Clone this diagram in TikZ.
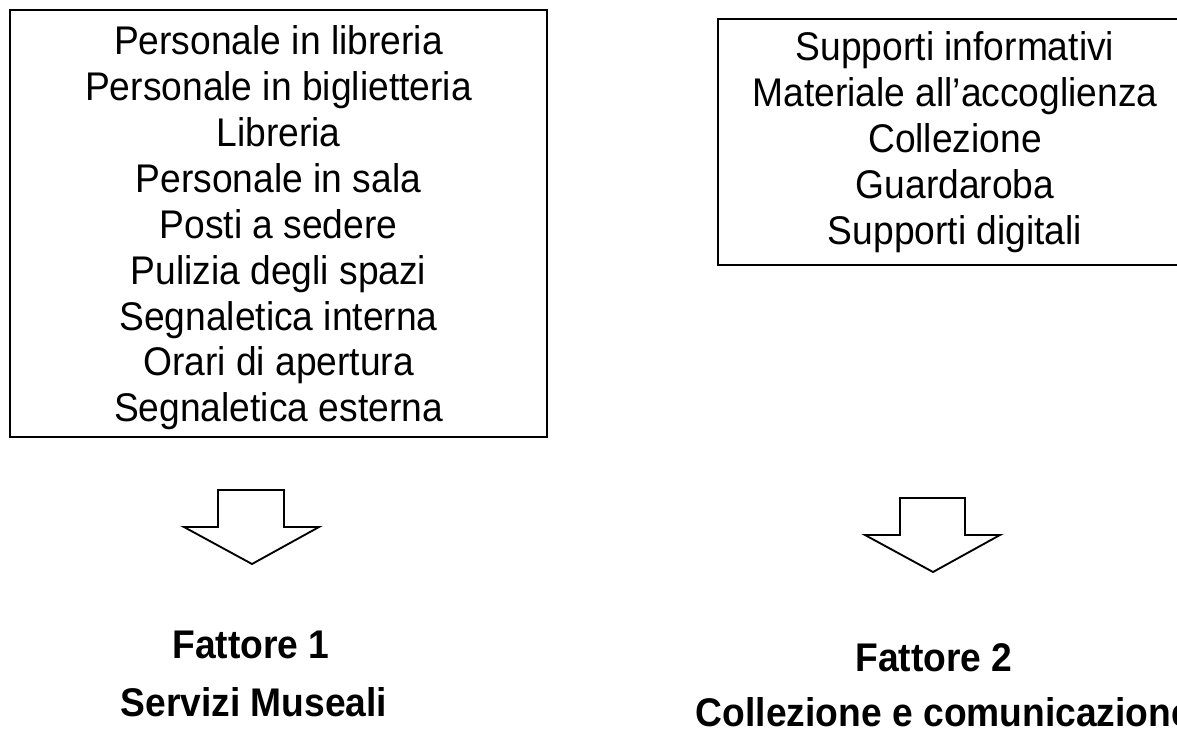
\documentclass[tikz,border=0pt]{standalone}
\usepackage{fontspec}
\setmainfont[FakeStretch=0.93]{Liberation Sans}
\begin{document}
\begin{tikzpicture}[x=0.75pt,y=-0.75pt,
  listbox/.style={draw,line width=1pt,align=center,inner sep=0pt,
    font=\fontsize{30}{34.4}\selectfont},
  factorlabel/.style={inner sep=0pt,font=\fontsize{30}{36}\selectfont\bfseries},
  blockarrow/.style={draw,line width=1.4pt,fill=white,line join=miter}]
\useasboundingbox (0,0) rectangle (1177,728);
\clip (0,0) rectangle (1177,728);
% the two lists of items
\node[listbox,minimum width=402.75pt,minimum height=320.25pt] (servizi) at (278.5,223.5) {};
\node[align=center,inner sep=0pt,font=\fontsize{30}{34.4}\selectfont] (servizitext) at (278.5,228)
  {Personale in libreria\\Personale in biglietteria\\Libreria\\Personale in sala\\Posti a sedere\\
   Pulizia degli spazi\\Segnaletica interna\\Orari di apertura\\Segnaletica esterna};
\node[listbox,minimum width=355.5pt,minimum height=184.5pt] (collezione) at (955,142)
  {Supporti informativi\\Materiale all'accoglienza\\Collezione\\Guardaroba\\Supporti digitali};
% block arrows
\draw[blockarrow] (218,490) -- (284,490) -- (284,527) -- (319,527) -- (252,564)
  -- (184,527) -- (218,527) -- cycle;
\draw[blockarrow] (900,498) -- (965,498) -- (965,535) -- (1000,535) -- (933,572)
  -- (865,535) -- (900,535) -- cycle;
% factor names
\node[factorlabel] (fattore1) at (251,645) {Fattore 1};
\node[factorlabel] (nome1) at (254,702) {Servizi Museali};
\node[factorlabel] (fattore2) at (934,658) {Fattore 2};
\node[factorlabel] (nome2) at (944,712) {Collezione e comunicazione};
\end{tikzpicture}
\end{document}
